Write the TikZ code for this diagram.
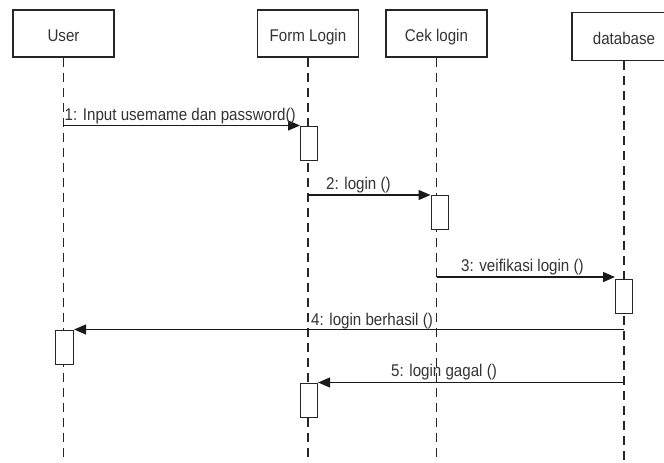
\documentclass[tikz,border=0pt]{standalone}
\usepackage{fontspec}
\setmainfont[FakeStretch=0.89]{Liberation Sans}
\usetikzlibrary{arrows.meta}
\begin{document}
\begin{tikzpicture}[x=1pt,y=-1pt,
  every node/.style={font=\fontsize{17}{20}\selectfont, text=black!80},
  head/.style={draw=black!85, line width=1.1pt, fill=white, minimum width=101pt,
    minimum height=47pt, inner sep=0pt, text height=16pt, text depth=0pt},
  life/.style={draw=black!85, line width=1.1pt, dash pattern=on 9pt off 6pt},
  act/.style={draw=black!85, line width=1.1pt, fill=white, minimum width=17pt,
    minimum height=34pt, inner sep=0pt, anchor=north west},
  msg/.style={draw=black!90, line width=1.3pt, -{Triangle[length=12pt,width=10pt]}},
  lbl/.style={anchor=base west, inner sep=0pt}]
\useasboundingbox[fill=white] (0,0) rectangle (664,463);

% object heads
\node[head] (user) at (63.5,33.5) {User};
\node[head] (form) at (308,33.5) {Form Login};
\node[head] (cek) at (436.5,33.5) {Cek login};
\node[head, minimum width=104pt, minimum height=48pt] (db) at (624,36.3) {database};

% lifelines
\coordinate (userbot) at (63.5,463);
\coordinate (formbot) at (308,463);
\coordinate (cekbot) at (436.5,463);
\coordinate (dbbot) at (624,463);
\draw[life] (user.south) -- (userbot);
\draw[life] (form.south) -- (formbot);
\draw[life] (cek.south) -- (cekbot);
\draw[life] (db.south) -- (dbbot);

% activation bars
\node[act] (form1) at (300,125.5) {};
\node[act] (cek1) at (430.5,195) {};
\node[act] (db1) at (615,279) {};
\node[act, minimum width=18pt] (user1) at (55,329.5) {};
\node[act] (form2) at (300,382.5) {};

% messages
\coordinate (m1s) at (63.5,125.5);
\coordinate (m2s) at (308,195);
\coordinate (m3s) at (436.5,277);
\coordinate (m4s) at (624,329.5);
\coordinate (m5s) at (624,382.5);
\draw[msg] (m1s) -- (form1.north west);
\draw[msg] (m2s) -- (cek1.north west);
\draw[msg] (m3s) -- (m3s -| db1.west);
\draw[msg] (m4s) -- (user1.north east);
\draw[msg] (m5s) -- (form2.north east);

% message labels
\node[lbl] (l1) at (64.5,120) {1: Input usemame dan password()};
\node[lbl] (l2) at (326,189.5) {2: login ()};
\node[lbl] (l3) at (461,271.5) {3: veifikasi login ()};
\node[lbl] (l4) at (311,325) {4: login berhasil ()};
\node[lbl] (l5) at (391,376) {5: login gagal ()};
\end{tikzpicture}
\end{document}
